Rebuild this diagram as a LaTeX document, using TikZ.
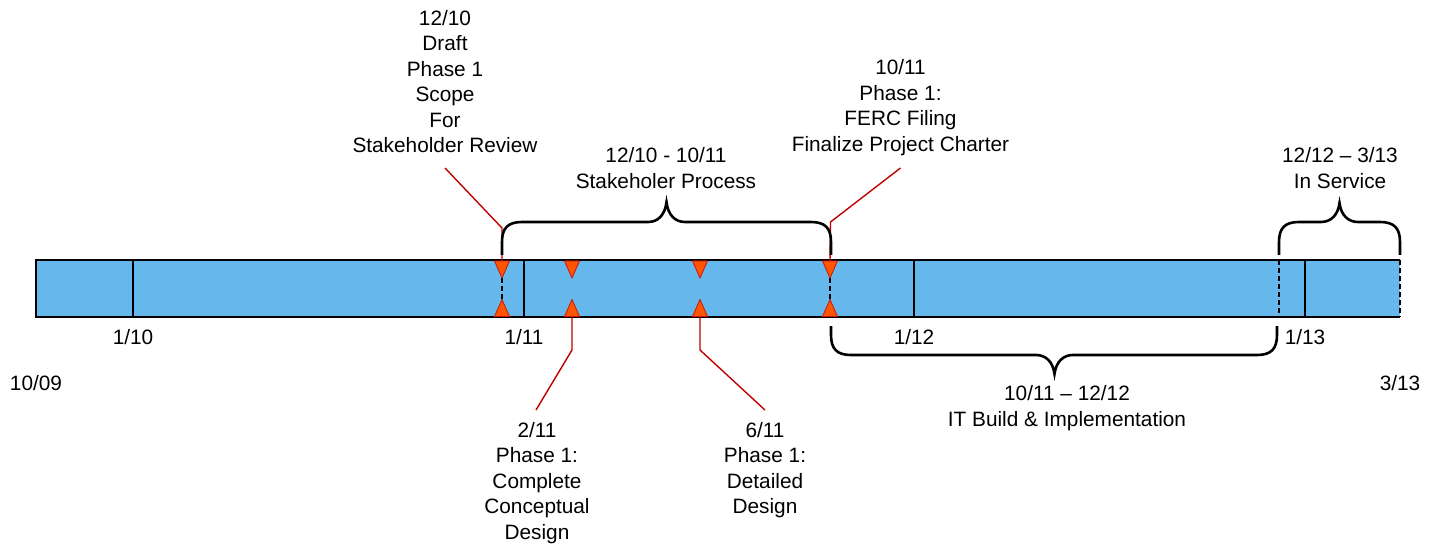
\documentclass[tikz,border=0pt]{standalone}
\usepackage{fontspec}
\setmainfont{Liberation Sans}
\definecolor{barblue}{RGB}{102,184,236}
\definecolor{triorange}{RGB}{255,85,0}
\definecolor{triedge}{RGB}{204,20,10}
\definecolor{callred}{RGB}{192,0,0}
\begin{document}
\begin{tikzpicture}[x=1pt,y=-1pt,
  lbl/.style={font=\fontsize{20.8}{25.5}\selectfont, align=center, inner sep=0pt},
  barline/.style={draw=black, line width=1.2pt},
  dtick/.style={draw=black, line width=1.2pt, dash pattern=on 5pt off 3pt},
  tri/.style={fill=triorange, draw=triedge, line width=0.8pt, line join=miter},
  callout/.style={draw=callred, line width=1.4pt},
  bracepath/.style={draw=black, line width=2.6pt}]
\useasboundingbox (0,0) rectangle (1441,548);
% bar
\fill[barblue] (36,260) rectangle (1400,317);
\draw[barline] (1400,260) -- (36,260) -- (36,317) -- (1400,317);
\draw[dtick] (1400,260) -- (1400,317);
% solid year ticks
\foreach \x in {133,524,914,1305} \draw[barline] (\x,260) -- (\x,317);
% dashed ticks
\draw[dtick] (1279,260) -- (1279,317);
\draw[dtick] (502,270) -- (502,307);
\draw[dtick] (830,270) -- (830,307);
% triangles
\foreach \x/\n in {502/a,572/b,700/c,830/d} {
  \draw[tri] (\x-7.5,261) -- (\x+7.5,261) -- (\x,278) -- cycle;
  \draw[tri] (\x-7.5,316.5) -- (\x+7.5,316.5) -- (\x,299.5) -- cycle;
  \coordinate (top\n) at (\x,261);
  \coordinate (bot\n) at (\x,316.5);
}
% tick labels
\node[lbl] (l110) at (133,337) {1/10};
\node[lbl] (l111) at (524,337) {1/11};
\node[lbl] (l112) at (914,337) {1/12};
\node[lbl] (l113) at (1305,337) {1/13};
\node[lbl] (l1009) at (36,383) {10/09};
\node[lbl] (l313) at (1400,383) {3/13};
% milestone labels
\node[lbl] (m1) at (445,81.5) {12/10\\Draft\\Phase 1\\Scope\\For\\Stakeholder Review};
\node[lbl] (m4) at (900.5,107.5) {10/11\\Phase 1:\\FERC Filing\\Finalize Project Charter};
\node[lbl] (m2) at (537,483) {2/11\\Phase 1:\\Complete\\Conceptual\\Design};
\node[lbl] (m3) at (765,470) {6/11\\Phase 1:\\Detailed\\Design};
% callout ends
\coordinate (c1) at (445,168);
\coordinate (c4) at (900.5,168);
\coordinate (c2) at (536,410);
\coordinate (c3) at (765,410);
\draw[callout] (topa) -- (502,228) -- (c1);
\draw[callout] (topd) -- (830.5,222) -- (c4);
\draw[callout] (botb) -- (572,350) -- (c2);
\draw[callout] (botc) -- (700,350) -- (c3);
% braces
\draw[bracepath] (502,255) -- (502,242) .. controls (502,228) and (508,222) .. (522,222)
  -- (648,222) .. controls (658,222) and (665,215) .. (666.5,202)
  .. controls (668,215) and (675,222) .. (685,222)
  -- (811,222) .. controls (825,222) and (831,228) .. (831,242) -- (831,255);
\draw[bracepath] (1279,255) -- (1279,242) .. controls (1279,228) and (1285,222) .. (1299,222)
  -- (1321,222) .. controls (1331,222) and (1338,215) .. (1339.5,203)
  .. controls (1341,215) and (1348,222) .. (1358,222)
  -- (1380,222) .. controls (1394,222) and (1400,228) .. (1400,242) -- (1400,255);
\draw[bracepath] (831,326) -- (831,335) .. controls (831,349) and (837,355) .. (851,355)
  -- (1036,355) .. controls (1046,355) and (1053,362) .. (1054.5,374)
  .. controls (1056,362) and (1063,355) .. (1073,355)
  -- (1257,355) .. controls (1271,355) and (1277,349) .. (1277,335) -- (1277,326);
% brace labels
\node[lbl] (b1) at (666,168) {12/10 - 10/11\\Stakeholer Process};
\node[lbl] (b2) at (1340,168) {12/12 – 3/13\\In Service};
\node[lbl] (b3) at (1067,408) {10/11 – 12/12\\IT Build \& Implementation};
\end{tikzpicture}
\end{document}
